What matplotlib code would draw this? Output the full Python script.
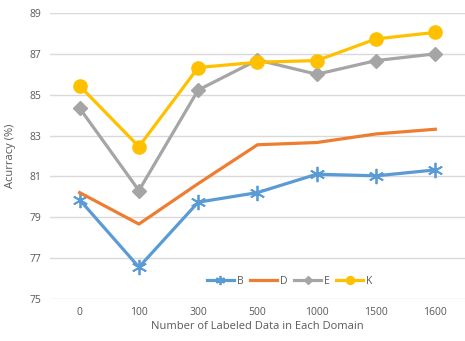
import matplotlib
matplotlib.use('Agg')
import matplotlib.pyplot as plt

categories = ['0', '100', '300', '500', '1000', '1500', '1600']
B = [79.86, 76.56, 79.74, 80.21, 81.11, 81.03, 81.32]
D = [80.21, 78.67, 80.65, 82.55, 82.66, 83.08, 83.31]
E = [84.34, 80.31, 85.23, 86.70, 86.00, 86.67, 87.00]
K = [85.43, 82.46, 86.33, 86.59, 86.67, 87.73, 88.05]

plt.rcParams['font.family'] = ['Open Sans', 'DejaVu Sans']
txt = '#595959'

fig = plt.figure(figsize=(4.65, 3.41), dpi=100)
ax = fig.add_axes([0.1075, 0.123, 0.8925, 0.839])

x = list(range(len(categories)))
ax.plot(x, B, color='#5B9BD5', lw=2.3, marker=(6, 2, 0), ms=11, mew=1.3, label='B', zorder=3)
ax.plot(x, D, color='#ED7D31', lw=2.3, label='D', zorder=3)
ax.plot(x, E, color='#A5A5A5', lw=2.3, marker='D', ms=7, label='E', zorder=3)
ax.plot(x, K, color='#FFC000', lw=2.3, marker='o', ms=9.5, label='K', zorder=4)

ax.set_xlim(-0.5, len(categories) - 0.5)
ax.set_ylim(75, 89)
ax.set_yticks(range(75, 90, 2))
ax.set_xticks(x)
ax.set_xticklabels(categories)
ax.tick_params(length=0, labelsize=7.5, colors=txt)
ax.tick_params(axis='x', pad=6)
ax.tick_params(axis='y', pad=6)
ax.grid(axis='y', color='#D9D9D9', lw=1)
ax.set_axisbelow(True)
for s in ax.spines.values():
    s.set_visible(False)

ax.set_xlabel('Number of Labeled Data in Each Domain', fontsize=8, color=txt, labelpad=2)
ax.set_ylabel('Acurracy (%)', fontsize=8, color=txt, labelpad=10)

ax.legend(loc='center', bbox_to_anchor=(0.578, 0.063), ncol=4, frameon=False,
          fontsize=7.5, labelcolor=txt, handlelength=2.6, handletextpad=0.3,
          columnspacing=0.6, markerscale=0.6)

fig.savefig('out.png', dpi=100)
